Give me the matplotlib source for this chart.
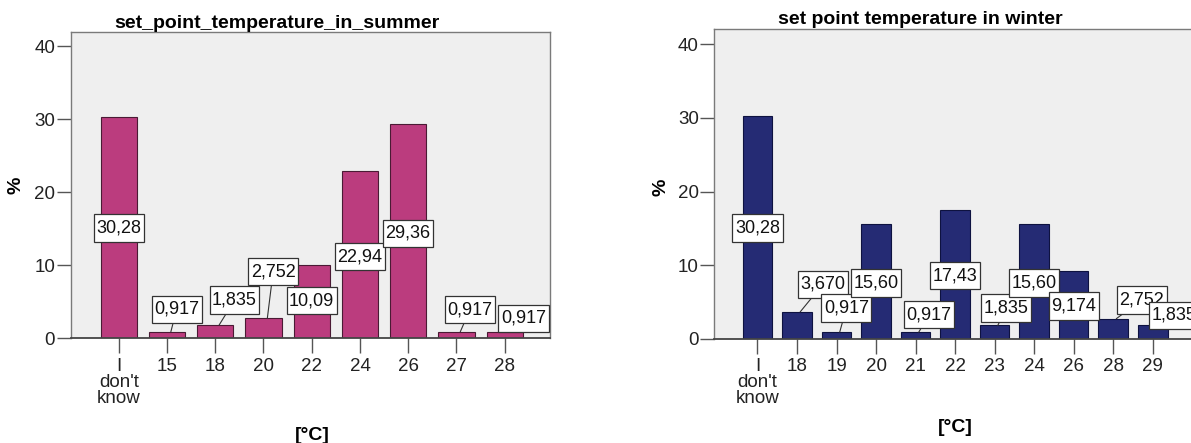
import numpy as np
import matplotlib
matplotlib.use("Agg")
import matplotlib.pyplot as plt
from matplotlib.path import Path

plt.rcParams['font.family'] = ['Liberation Sans', 'DejaVu Sans']

# data
summer_cats = ["I\ndon't\nknow", "15", "18", "20", "22", "24", "26", "27", "28"]
summer_pct = [30.28, 0.917, 1.835, 2.752, 10.09, 22.94, 29.36, 0.917, 0.917]
summer_txt = ["30,28", "0,917", "1,835", "2,752", "10,09", "22,94", "29,36", "0,917", "0,917"]

winter_cats = ["I\ndon't\nknow", "18", "19", "20", "21", "22", "23", "24", "26", "28", "29"]
winter_pct = [30.28, 3.670, 0.917, 15.60, 0.917, 17.43, 1.835, 15.60, 9.174, 2.752, 1.835]
winter_txt = ["30,28", "3,670", "0,917", "15,60", "0,917", "17,43", "1,835", "15,60", "9,174", "2,752", "1,835"]

# label placement (x offset from bar, label centre height); None = middle of bar
summer_lab = [(0, 15.1), (0.2, 4.0), (0.4, 5.25), (0.2, 9.15), (0, 5.2),
              (0, 11.2), (0, 14.4), (0.28, 3.95), (0.39, 2.75)]
winter_lab = [(0, 15.05), (0.65, 7.4), (0.25, 4.2), (0, 7.6), (0.34, 3.3),
              (0, 8.6), (0.3, 4.2), (0, 7.6), (0, 4.5), (0.72, 5.3), (0.55, 3.2)]

BG = '#efefef'


def label_box(x0, y0, width, height, mutation_size):
    # SPSS style label: little side padding, more above and below
    px = 0.14 * mutation_size
    py = 0.29 * mutation_size
    x0, y0 = x0 - px, y0 - py
    x1, y1 = x0 + width + 2 * px, y0 + height + 2 * py
    return Path([(x0, y0), (x1, y0), (x1, y1), (x0, y1), (x0, y0)], closed=True)


def draw(ax, cats, vals, txts, labs, color, edge):
    x = np.arange(len(cats))
    ax.bar(x, vals, width=0.75, color=color, edgecolor=edge, linewidth=0.8, zorder=2)
    ax.set_facecolor(BG)
    ax.set_ylim(0, 42)
    ax.set_yticks([0, 10, 20, 30, 40])
    ax.set_xticks(x)
    ax.set_xticklabels(cats, fontsize=13.5, linespacing=0.92, color='#222222')
    ax.tick_params(axis='y', labelsize=13.5, length=10, width=1, color='#555555', pad=1,
                   labelcolor='#222222')
    ax.tick_params(axis='x', length=11, width=1, color='#555555', pad=3)
    for s in ['top', 'right', 'left']:
        ax.spines[s].set_color('#7a7a7a')
        ax.spines[s].set_linewidth(1)
    ax.spines['bottom'].set_color('#444444')
    ax.spines['bottom'].set_linewidth(1.3)
    box = dict(boxstyle=label_box, fc='white', ec='#333333', lw=0.9)
    for i, (v, t, (dx, ly)) in enumerate(zip(vals, txts, labs)):
        if ly is None:
            ly = v / 2
        if dx == 0:
            ax.text(i, ly, t, ha='center', va='center', fontsize=13, bbox=box, zorder=4,
                    color='#111111')
        else:
            ax.annotate(t, xy=(i + 0.08, v), xytext=(i + dx, ly), color='#111111',
                        ha='center', va='center', fontsize=13, bbox=box, zorder=4,
                        arrowprops=dict(arrowstyle='-', color='#333333', lw=0.8,
                                        shrinkA=0, shrinkB=0))


fig = plt.figure(figsize=(11.91, 4.43), dpi=100)

ax1 = fig.add_axes([0.0592, 0.2359, 0.4026, 0.6926])
draw(ax1, summer_cats, summer_pct, summer_txt, summer_lab, '#bb3c7e', '#4a1a34')
ax1.set_xlim(-1.0, 8.94)

ax2 = fig.add_axes([0.5995, 0.2348, 0.4181, 0.6991])
draw(ax2, winter_cats, winter_pct, winter_txt, winter_lab, '#252b74', '#0e1240')
ax2.set_xlim(-1.1, 11.5)

fig.text(0.2326, 0.9368, 'set_point_temperature_in_summer', ha='center', va='baseline',
         fontsize=14, fontweight='bold')
fig.text(0.7725, 0.9458, 'set point temperature in winter', ha='center', va='baseline',
         fontsize=14, fontweight='bold')

fig.text(0.0134, 0.5824, '%', rotation=90, ha='center', va='center', fontsize=14, fontweight='bold')
fig.text(0.555, 0.578, '%', rotation=90, ha='center', va='center', fontsize=14, fontweight='bold')
fig.text(0.262, 0.018, '[°C]', ha='center', va='center', fontsize=14, fontweight='bold')
fig.text(0.8018, 0.036, '[°C]', ha='center', va='center', fontsize=14, fontweight='bold')

fig.savefig('out.png', dpi=100)
